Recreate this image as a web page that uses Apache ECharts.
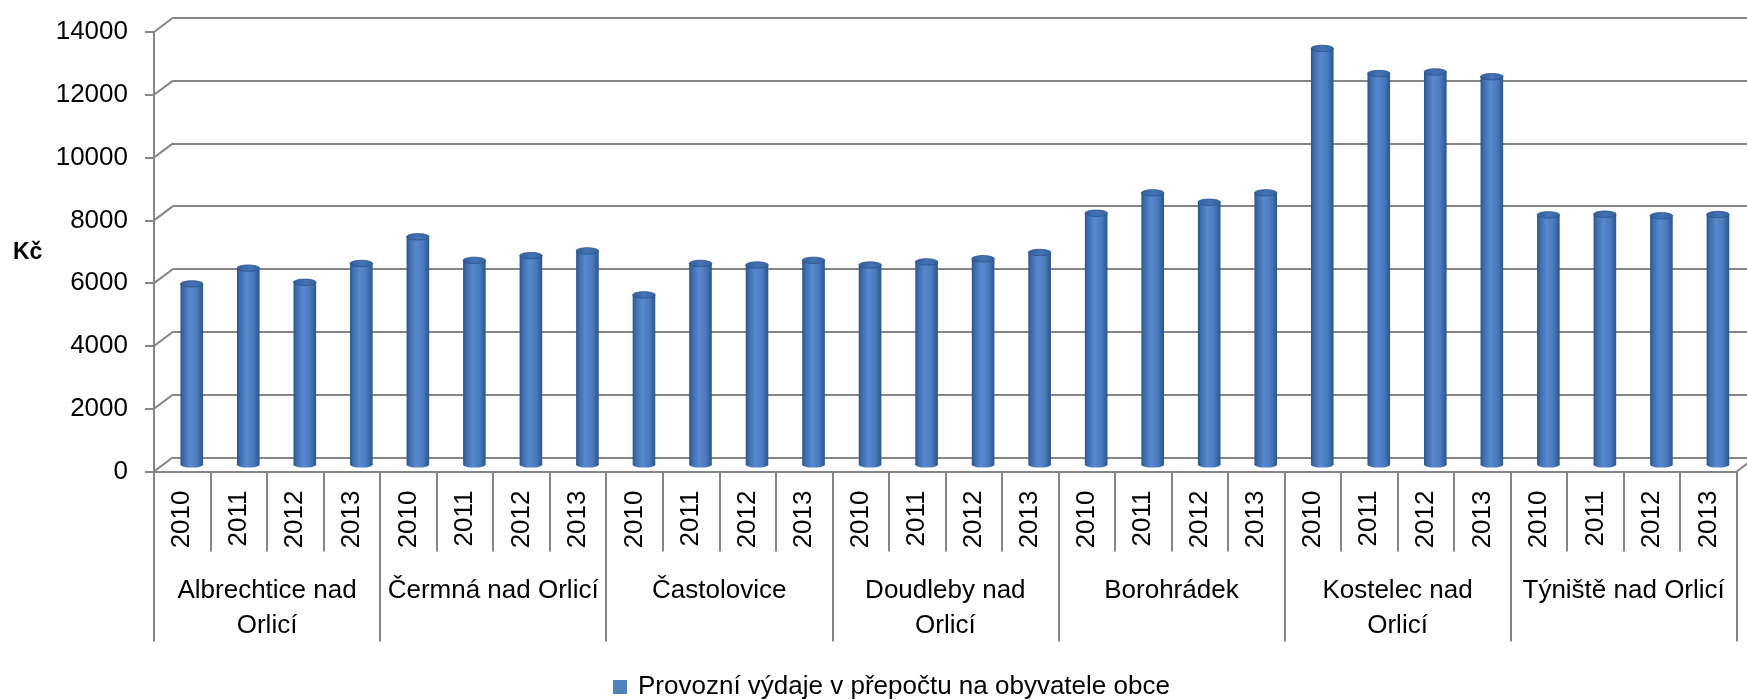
<!DOCTYPE html>
<html>
<head>
<meta charset="utf-8">
<script src="https://cdn.jsdelivr.net/npm/echarts@6/dist/echarts.min.js"></script>
<style>
  html, body { margin: 0; padding: 0; background: #fff; }
  #chart { width: 1747px; height: 700px; }
</style>
</head>
<body>
<div id="chart"></div>
<script>
// Municipalities (two-line where the label wraps) and the years shown for each
const groups = [
  'Albrechtice nad\nOrlicí',
  'Čermná nad Orlicí',
  'Častolovice',
  'Doudleby nad\nOrlicí',
  'Borohrádek',
  'Kostelec nad\nOrlicí',
  'Týniště nad Orlicí'
];
const years = ['2010', '2011', '2012', '2013'];
const yTicks = [0, 2000, 4000, 6000, 8000, 10000, 12000, 14000];
const seriesName = 'Provozní výdaje v přepočtu na obyvatele obce';
const unitLabel = 'Kč';

// Operating expenditure per inhabitant (Kč), 2010–2013
const albrechtice = [5750, 6250, 5800, 6400];
const cermna      = [7250, 6500, 6650, 6800];
const castolovice = [5400, 6400, 6350, 6500];
const doudleby    = [6350, 6450, 6550, 6750];
const borohradek  = [8000, 8650, 8350, 8650];
const kostelec    = [13250, 12450, 12500, 12350];
const tyniste     = [7950, 7970, 7920, 7960];

const values = [].concat(albrechtice, cermna, castolovice, doudleby, borohradek, kostelec, tyniste);
const yearLabels = groups.flatMap(() => years);

// Styling
const FONT = '"Liberation Sans", Arial, sans-serif';
const GRID_COLOR = '#858585';
const DEPTH_X = 19;      // horizontal depth of the 3D box
const DEPTH_Y = 14.2;    // vertical depth of the 3D box
const PLOT_W = 1582.7;
const PLOT_H = 439.5;
const FRONT_LEFT = 154, FRONT_TOP = 32;

const bodyGradient = {
  type: 'linear', x: 0, y: 0, x2: 1, y2: 0,
  colorStops: [
    { offset: 0, color: '#2a5289' },
    { offset: 0.12, color: '#3d6aa9' },
    { offset: 0.42, color: '#5889cf' },
    { offset: 0.72, color: '#4b7bbf' },
    { offset: 1, color: '#2c558c' }
  ]
};
const capGradient = {
  type: 'linear', x: 0, y: 0, x2: 1, y2: 0,
  colorStops: [
    { offset: 0, color: '#325c97' },
    { offset: 0.5, color: '#4473b4' },
    { offset: 1, color: '#3863a0' }
  ]
};

// Cylinder column: body + rounded base + elliptical cap
function renderCylinder(params, api) {
  const idx = api.value(0);
  const v = api.value(1);
  const top = api.coord([idx, v]);
  const base = api.coord([idx, 0]);
  const w = api.size([1, 0])[0] * 0.4;
  const rx = w / 2, ry = 3.2;
  return {
    type: 'group',
    children: [
      { type: 'ellipse', shape: { cx: top[0], cy: base[1], rx: rx, ry: ry }, style: { fill: bodyGradient } },
      { type: 'rect', shape: { x: top[0] - rx, y: top[1], width: w, height: base[1] - top[1] }, style: { fill: bodyGradient } },
      { type: 'ellipse', shape: { cx: top[0], cy: top[1], rx: rx, ry: ry }, style: { fill: capGradient, stroke: '#2a5390', lineWidth: 0.8 } }
    ]
  };
}

// Depth edges of the 3D box (side wall and floor corner)
function renderDepthEdge(params, api) {
  const idx = api.value(0);
  const v = api.value(1);
  const side = api.value(2);
  const p = api.coord([idx, v]);
  const half = api.size([1, 0])[0] / 2;
  const x0 = p[0] + side * half;
  return {
    type: 'line',
    shape: { x1: x0, y1: p[1], x2: x0 + DEPTH_X, y2: p[1] - DEPTH_Y },
    style: { stroke: GRID_COLOR, lineWidth: 2 }
  };
}

const edgeData = yTicks.map(v => [0, v, -1]).concat([[yearLabels.length - 1, 0, 1]]);

const chart = echarts.init(document.getElementById('chart'), null, { renderer: 'canvas' });

chart.setOption({
  backgroundColor: '#ffffff',
  animation: false,
  textStyle: { fontFamily: FONT },
  grid: [
    // front plane (axes, labels)
    { left: FRONT_LEFT, top: FRONT_TOP, width: PLOT_W, height: PLOT_H },
    // middle plane (columns)
    { left: FRONT_LEFT + DEPTH_X / 2, top: FRONT_TOP - DEPTH_Y / 2, width: PLOT_W, height: PLOT_H },
    // back wall (gridlines)
    { left: FRONT_LEFT + DEPTH_X, top: FRONT_TOP - DEPTH_Y, width: PLOT_W, height: PLOT_H }
  ],
  xAxis: [
    {
      gridIndex: 0, type: 'category', data: yearLabels, position: 'bottom', offset: 0,
      axisLine: { show: true, lineStyle: { color: GRID_COLOR, width: 2 } },
      axisTick: { show: true, interval: 0, length: 80, lineStyle: { color: GRID_COLOR, width: 2 } },
      axisLabel: { interval: 0, rotate: 90, margin: 19, fontSize: 26, color: '#000', fontFamily: FONT },
      splitLine: { show: false }
    },
    {
      gridIndex: 0, type: 'category', data: groups, position: 'bottom', offset: 0,
      axisLine: { show: false },
      axisTick: { show: true, interval: 0, length: 170, lineStyle: { color: GRID_COLOR, width: 2 } },
      axisLabel: { interval: 0, margin: 102, fontSize: 26, lineHeight: 35, color: '#000', fontFamily: FONT, align: 'center' },
      splitLine: { show: false }
    },
    { gridIndex: 1, type: 'category', data: yearLabels, show: false },
    { gridIndex: 2, type: 'category', data: yearLabels, show: false }
  ],
  yAxis: [
    {
      gridIndex: 0, type: 'value', min: 0, max: 14000, interval: 2000,
      axisLine: { show: true, lineStyle: { color: GRID_COLOR, width: 2 } },
      axisTick: { show: true, length: 9, lineStyle: { color: GRID_COLOR, width: 2 } },
      axisLabel: { margin: 26, fontSize: 26, color: '#000', fontFamily: FONT, formatter: v => String(v) },
      splitLine: { show: false }
    },
    { gridIndex: 1, type: 'value', min: 0, max: 14000, interval: 2000, show: false, splitLine: { show: false } },
    {
      gridIndex: 2, type: 'value', min: 0, max: 14000, interval: 2000,
      axisLine: { show: false }, axisTick: { show: false }, axisLabel: { show: false },
      splitLine: { show: true, lineStyle: { color: GRID_COLOR, width: 2 } }
    }
  ],
  legend: {
    data: [{ name: seriesName, icon: 'rect' }],
    left: 608, top: 669,
    itemWidth: 14, itemHeight: 14,
    textStyle: { fontSize: 26, color: '#000', fontFamily: FONT, padding: [0, 0, 0, 6] }
  },
  graphic: [
    { type: 'text', x: 13, y: 253, style: { text: unitLabel, font: 'bold 23px ' + FONT, fill: '#000', verticalAlign: 'middle', align: 'left' } }
  ],
  series: [
    {
      type: 'custom', name: 'edges', xAxisIndex: 0, yAxisIndex: 0,
      renderItem: renderDepthEdge, data: edgeData, silent: true, z: 1
    },
    {
      type: 'custom', name: seriesName, xAxisIndex: 2, yAxisIndex: 1,
      itemStyle: { color: '#4f81bd' },
      renderItem: renderCylinder,
      data: values.map((v, i) => [i, v]),
      z: 3
    }
  ]
});
</script>
</body>
</html>
